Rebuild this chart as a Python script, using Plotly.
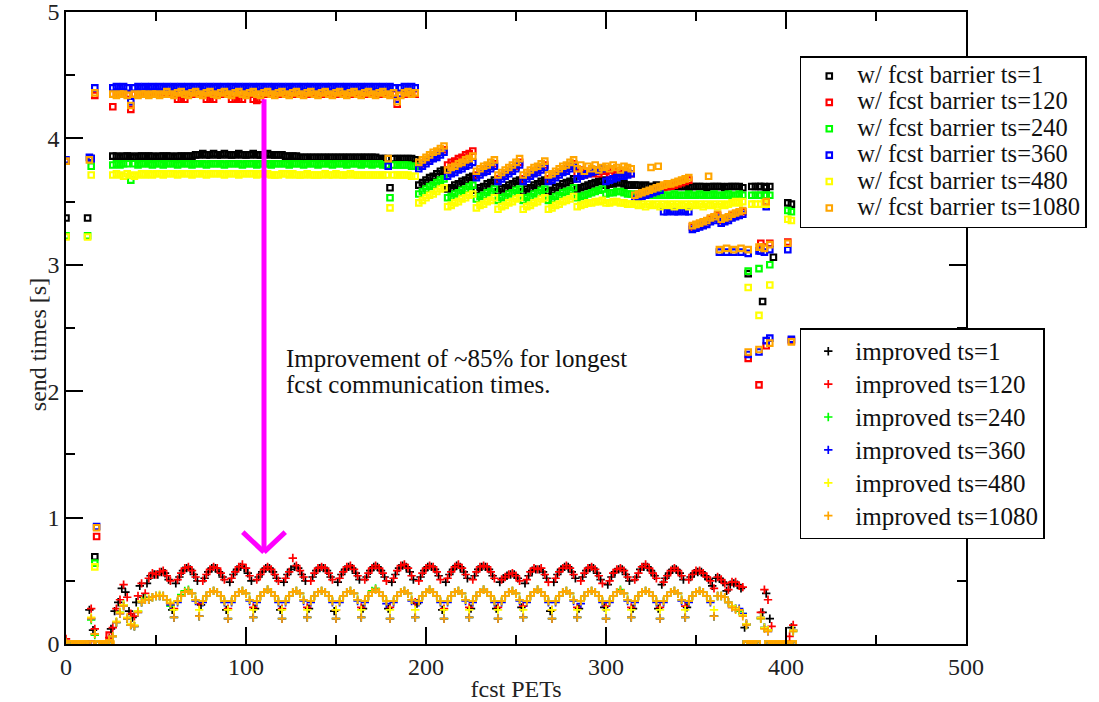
import plotly.graph_objects as go

FONT = "Liberation Serif, Times New Roman, serif"

# ---------------- x positions (fcst PET ids) ----------------
pets_even = list(range(0, 405, 2))   # 203 PETs
pets_odd = list(range(1, 405, 2))    # 202 PETs

series_names = ["ts=1", "ts=120", "ts=240", "ts=360", "ts=480", "ts=1080"]
series_colors = ["#000000", "#ff0000", "#00ff00", "#0000ff", "#ffff00", "#ffa500"]

# ---------------- "w/ fcst barrier" send times [s] (even PETs) ----------------
barrier_ts1 = [
    3.37, 0, 0, 0, 0, 0, 3.37, 3.84, 0.69, 0, 0, 0, 0,
    3.86, 3.86, 3.85, 3.86, 3.86, 3.86, 3.85, 3.86, 3.86, 3.86,
    3.86, 3.86, 3.85, 3.86, 3.86, 3.86, 3.86, 3.85, 3.86, 3.86,
    3.86, 3.86, 3.86, 3.87, 3.87, 3.88, 3.87, 3.87, 3.88, 3.87,
    3.87, 3.88, 3.87, 3.87, 3.87, 3.88, 3.87, 3.87, 3.87, 3.88,
    3.87, 3.87, 3.87, 3.88, 3.87, 3.87, 3.87, 3.87, 3.86, 3.86,
    3.86, 3.86, 3.85, 3.85, 3.85, 3.85, 3.85, 3.85, 3.85, 3.85,
    3.85, 3.85, 3.85, 3.85, 3.85, 3.85, 3.85, 3.85, 3.85, 3.85,
    3.85, 3.85, 3.85, 3.85, 3.84, 3.84, 3.84, 3.61, 3.84, 3.84,
    3.84, 3.84, 3.84, 3.84, 3.83,
    3.63, 3.65, 3.67, 3.69, 3.70, 3.72, 3.74, 3.75,
    3.60, 3.61, 3.63, 3.64, 3.66, 3.67, 3.69, 3.70,
    3.59, 3.61, 3.62, 3.64, 3.65, 3.67,
    3.58, 3.60, 3.61, 3.63, 3.64, 3.66, 3.67,
    3.58, 3.60, 3.61, 3.63, 3.64, 3.66, 3.67,
    3.58, 3.59, 3.61, 3.62, 3.64, 3.65, 3.66, 3.68,
    3.60, 3.61, 3.62, 3.63, 3.64, 3.65, 3.66, 3.67,
    3.63, 3.64, 3.64, 3.65, 3.65, 3.64, 3.63, 3.63,
    3.63, 3.63, 3.62, 3.63, 3.62, 3.62, 3.63, 3.62, 3.62, 3.62, 3.62, 3.63, 3.62, 3.62, 3.62, 3.61,
    3.62, 3.62, 3.62, 3.62, 3.61, 3.62, 3.62, 3.62,
    3.62, 3.61, 3.62, 3.62, 3.62, 3.62, 3.61,
    0, 0, 0, 0, 3.62,
    3.62,
    0, 0, 0, 0, 0, 0, 0, 0,
]
barrier_ts1_extra_x = [381, 383, 385, 389, 391, 379, 387, 393, 401, 403]
barrier_ts1_extra_y = [3.62, 3.62, 3.62, 3.61, 3.62, 2.93, 2.71, 3.06, 3.49, 3.48]

barrier_ts120 = [
    3.82, 0, 0, 0, 0, 0, 0, 0, 4.34, 0, 0, 0, 0.07,
    4.25, 4.35, 4.35, 4.35, 4.35, 4.23, 4.35, 4.35, 4.35, 4.35,
    4.35, 4.35, 4.35, 4.35, 4.35, 4.35, 4.35, 4.35, 4.31, 4.31,
    4.31, 4.35, 4.35, 4.35, 4.35, 4.35, 4.31, 4.31, 4.31, 4.35,
    4.35, 4.35, 4.35, 4.31, 4.31, 4.31, 4.31, 4.35, 4.35, 4.31,
    4.30, 4.31, 4.35, 4.35, 4.35, 4.35, 4.35, 4.35, 4.35, 4.35,
    4.35, 4.35, 4.35, 4.35, 4.35, 4.35, 4.35, 4.35, 4.35, 4.35,
    4.35, 4.35, 4.35, 4.35, 4.35, 4.35, 4.35, 4.35, 4.35, 4.35,
    4.35, 4.35, 4.35, 4.35, 4.35, 4.35, 4.35, 4.35, 4.35, 4.27,
    4.35, 4.35, 4.35, 4.35, 4.35,
    3.78, 3.80, 3.82, 3.84, 3.86, 3.87, 3.89, 3.91,
    3.79, 3.81, 3.82, 3.84, 3.85, 3.87, 3.88, 3.90,
    3.71, 3.73, 3.75, 3.76, 3.78, 3.80,
    3.68, 3.70, 3.72, 3.74, 3.76, 3.78, 3.81,
    3.68, 3.70, 3.72, 3.74, 3.75, 3.77, 3.79,
    3.68, 3.69, 3.71, 3.73, 3.75, 3.76, 3.78, 3.80,
    3.72, 3.75, 3.71, 3.74, 3.72, 3.75, 3.72, 3.74,
    3.74, 3.72, 3.75, 3.73, 3.72, 3.74, 3.73, 3.72,
    3.53, 3.54, 3.55, 3.56, 3.57, 3.58, 3.59, 3.60, 3.61, 3.62, 3.62, 3.63, 3.64, 3.65, 3.66, 3.67,
    3.30, 3.31, 3.32, 3.33, 3.34, 3.36, 3.37, 3.39,
    3.35, 3.36, 3.37, 3.39, 3.40, 3.41, 3.42,
    0, 0, 0, 0, 3.17,
    3.14,
    0, 0, 0, 0, 0, 0, 0, 0,
]
barrier_ts120_extra_x = [17, 379, 385, 389, 403, 391, 401]
barrier_ts120_extra_y = [0.85, 2.26, 2.05, 2.36, 2.40, 3.17, 3.18]

barrier_ts240 = [
    3.23, 0, 0, 0, 0, 0, 3.23, 3.78, 0.64, 0, 0, 0, 0,
    3.79, 3.80, 3.79, 3.80, 3.80, 3.67, 3.80, 3.79, 3.80, 3.80,
    3.80, 3.79, 3.80, 3.80, 3.79, 3.80, 3.80, 3.80, 3.79, 3.80,
    3.80, 3.80, 3.79, 3.80, 3.80, 3.80, 3.79, 3.80, 3.80, 3.80,
    3.80, 3.79, 3.80, 3.80, 3.80, 3.80, 3.79, 3.80, 3.80, 3.80,
    3.79, 3.80, 3.80, 3.80, 3.79, 3.80, 3.80, 3.80, 3.80, 3.79,
    3.80, 3.80, 3.80, 3.79, 3.80, 3.80, 3.80, 3.79, 3.80, 3.80,
    3.80, 3.79, 3.80, 3.80, 3.80, 3.79, 3.80, 3.80, 3.80, 3.79,
    3.80, 3.80, 3.79, 3.80, 3.80, 3.79, 3.79, 3.53, 3.79, 3.79,
    3.79, 3.79, 3.79, 3.78, 3.78,
    3.56, 3.58, 3.60, 3.62, 3.63, 3.65, 3.67, 3.68,
    3.53, 3.54, 3.56, 3.57, 3.59, 3.60, 3.62, 3.63,
    3.52, 3.54, 3.55, 3.57, 3.58, 3.60,
    3.51, 3.53, 3.54, 3.56, 3.57, 3.59, 3.60,
    3.51, 3.53, 3.54, 3.56, 3.57, 3.59, 3.60,
    3.51, 3.52, 3.54, 3.55, 3.57, 3.58, 3.59, 3.61,
    3.53, 3.54, 3.55, 3.56, 3.57, 3.58, 3.59, 3.60,
    3.56, 3.57, 3.57, 3.58, 3.58, 3.57, 3.56, 3.56,
    3.55, 3.56, 3.55, 3.55, 3.56, 3.55, 3.55, 3.56, 3.55, 3.55, 3.55, 3.56, 3.55, 3.55, 3.55, 3.56,
    3.55, 3.55, 3.56, 3.55, 3.55, 3.55, 3.56, 3.55,
    3.55, 3.55, 3.56, 3.55, 3.55, 3.56, 3.55,
    0, 0, 0, 0, 3.55,
    3.55,
    0, 0, 0, 0, 0, 0, 0, 0,
]
barrier_ts240_extra_x = [381, 383, 385, 389, 391, 379, 385, 391, 401, 403]
barrier_ts240_extra_y = [3.55, 3.55, 3.55, 3.55, 3.55, 2.95, 2.97, 3.00, 3.43, 3.42]

barrier_ts360 = [
    3.83, 0, 0, 0, 0, 0, 0, 3.84, 4.40, 0, 0, 0, 0,
    4.40, 4.41, 4.40, 4.41, 4.40, 4.29, 4.40, 4.41, 4.40, 4.41,
    4.40, 4.41, 4.40, 4.41, 4.40, 4.41, 4.40, 4.41, 4.40, 4.41,
    4.40, 4.41, 4.40, 4.41, 4.40, 4.41, 4.40, 4.41, 4.40, 4.41,
    4.40, 4.41, 4.40, 4.41, 4.40, 4.41, 4.40, 4.41, 4.40, 4.41,
    4.40, 4.41, 4.40, 4.41, 4.40, 4.41, 4.40, 4.41, 4.40, 4.41,
    4.40, 4.41, 4.40, 4.41, 4.40, 4.41, 4.40, 4.41, 4.40, 4.41,
    4.40, 4.41, 4.40, 4.41, 4.40, 4.41, 4.40, 4.41, 4.40, 4.41,
    4.40, 4.41, 4.40, 4.41, 4.40, 4.41, 4.40, 4.41, 4.40, 4.31,
    4.40, 4.41, 4.40, 4.41, 4.40,
    3.76, 3.78, 3.80, 3.82, 3.84, 3.85, 3.87, 3.89,
    3.70, 3.72, 3.73, 3.75, 3.76, 3.78, 3.79, 3.81,
    3.69, 3.71, 3.73, 3.74, 3.76, 3.78,
    3.66, 3.68, 3.70, 3.72, 3.74, 3.76, 3.79,
    3.66, 3.68, 3.70, 3.72, 3.73, 3.75, 3.77,
    3.66, 3.67, 3.69, 3.71, 3.73, 3.74, 3.76, 3.78,
    3.68, 3.70, 3.71, 3.72, 3.73, 3.74, 3.75, 3.76,
    3.66, 3.67, 3.68, 3.69, 3.70, 3.70, 3.71, 3.72,
    3.52, 3.53, 3.54, 3.55, 3.56, 3.57, 3.58, 3.59, 3.42, 3.42, 3.43, 3.42, 3.42, 3.43, 3.42, 3.42,
    3.28, 3.29, 3.30, 3.31, 3.32, 3.34, 3.35, 3.37,
    3.33, 3.34, 3.35, 3.37, 3.38, 3.39, 3.40,
    0, 0, 0, 0, 3.11,
    3.10,
    0, 0, 0, 0, 0, 0, 0, 0,
]
barrier_ts360_extra_x = [13, 17, 179, 363, 367, 371, 375, 379, 385, 391, 401, 379, 385, 389, 391, 403, 389]
barrier_ts360_extra_y = [3.85, 0.93, 3.78, 3.10, 3.10, 3.10, 3.10, 3.09, 3.11, 3.12, 3.12, 2.29, 2.31, 2.40, 2.42, 2.41, 3.46]

barrier_ts480 = [
    3.22, 0, 0, 0, 0, 0, 3.22, 3.71, 0.61, 0, 0, 0, 0,
    3.71, 3.72, 3.71, 3.70, 3.72, 3.71, 3.70, 3.71, 3.72, 3.71,
    3.72, 3.71, 3.72, 3.72, 3.71, 3.72, 3.72, 3.72, 3.71, 3.72,
    3.72, 3.72, 3.71, 3.72, 3.72, 3.72, 3.71, 3.72, 3.72, 3.72,
    3.72, 3.71, 3.72, 3.72, 3.72, 3.71, 3.72, 3.72, 3.72, 3.72,
    3.71, 3.72, 3.72, 3.72, 3.71, 3.71, 3.71, 3.72, 3.72, 3.71,
    3.72, 3.71, 3.71, 3.71, 3.72, 3.71, 3.71, 3.71, 3.71, 3.72,
    3.71, 3.71, 3.72, 3.71, 3.71, 3.71, 3.72, 3.71, 3.71, 3.71,
    3.71, 3.71, 3.71, 3.71, 3.71, 3.71, 3.71, 3.45, 3.71, 3.71,
    3.71, 3.71, 3.71, 3.70, 3.70,
    3.49, 3.51, 3.53, 3.55, 3.56, 3.58, 3.60, 3.61,
    3.46, 3.47, 3.49, 3.50, 3.52, 3.53, 3.55, 3.56,
    3.45, 3.47, 3.48, 3.50, 3.51, 3.53,
    3.44, 3.46, 3.47, 3.49, 3.50, 3.52, 3.53,
    3.44, 3.46, 3.47, 3.49, 3.50, 3.52, 3.53,
    3.44, 3.45, 3.47, 3.48, 3.50, 3.51, 3.52, 3.54,
    3.46, 3.47, 3.48, 3.49, 3.49, 3.50, 3.50, 3.51,
    3.49, 3.49, 3.50, 3.50, 3.49, 3.49, 3.48, 3.48,
    3.48, 3.47, 3.48, 3.46, 3.48, 3.47, 3.48, 3.46, 3.48, 3.47, 3.48, 3.46, 3.48, 3.47, 3.48, 3.46,
    3.48, 3.47, 3.48, 3.46, 3.48, 3.47, 3.48, 3.46,
    3.48, 3.47, 3.48, 3.49, 3.50, 3.49, 3.50,
    0, 0, 0, 0, 3.48,
    3.49,
    0, 0, 0, 0, 0, 0, 0, 0,
]
barrier_ts480_extra_x = [381, 383, 389, 379, 385, 391, 401, 403]
barrier_ts480_extra_y = [3.48, 3.48, 3.48, 2.82, 2.60, 2.84, 3.36, 3.35]

barrier_ts1080 = [
    3.82, 0, 0, 0, 0, 0, 0, 0, 4.36, 0, 0, 0, 0,
    4.35, 4.34, 4.35, 4.35, 4.34, 4.26, 4.35, 4.34, 4.35, 4.35,
    4.34, 4.35, 4.35, 4.34, 4.35, 4.37, 4.35, 4.34, 4.36, 4.37,
    4.35, 4.34, 4.36, 4.37, 4.35, 4.34, 4.36, 4.37, 4.35, 4.34,
    4.36, 4.37, 4.35, 4.34, 4.36, 4.37, 4.35, 4.34, 4.36, 4.37,
    4.35, 4.34, 4.36, 4.37, 4.35, 4.34, 4.36, 4.37, 4.35, 4.34,
    4.36, 4.37, 4.35, 4.34, 4.36, 4.37, 4.35, 4.34, 4.36, 4.37,
    4.35, 4.34, 4.36, 4.37, 4.35, 4.34, 4.36, 4.37, 4.35, 4.34,
    4.36, 4.37, 4.35, 4.34, 4.36, 4.37, 4.35, 4.34, 4.36, 4.29,
    4.34, 4.36, 4.37, 4.35, 4.36,
    3.81, 3.83, 3.85, 3.87, 3.89, 3.90, 3.92, 3.94,
    3.75, 3.77, 3.78, 3.80, 3.81, 3.83, 3.84, 3.86,
    3.74, 3.76, 3.78, 3.79, 3.81, 3.83,
    3.71, 3.73, 3.75, 3.77, 3.79, 3.81, 3.84,
    3.71, 3.73, 3.75, 3.77, 3.78, 3.80, 3.82,
    3.71, 3.72, 3.74, 3.76, 3.78, 3.79, 3.81, 3.83,
    3.76, 3.79, 3.74, 3.78, 3.76, 3.79, 3.75, 3.77,
    3.78, 3.76, 3.79, 3.77, 3.75, 3.78, 3.77, 3.76,
    3.55, 3.56, 3.57, 3.58, 3.59, 3.60, 3.61, 3.62, 3.63, 3.64, 3.64, 3.65, 3.66, 3.67, 3.68, 3.69,
    3.31, 3.32, 3.33, 3.34, 3.35, 3.37, 3.38, 3.40,
    3.36, 3.37, 3.38, 3.40, 3.41, 3.42, 3.43,
    0, 0, 0, 0, 3.14,
    3.13,
    0, 0, 0, 0, 0, 0, 0, 0,
]
barrier_ts1080_extra_x = [0, 25, 13, 17, 179, 325, 329, 357, 363, 367, 371, 375, 379, 385, 391, 401, 379, 385, 391, 403, 389]
barrier_ts1080_extra_y = [0, 0, 3.83, 0.92, 3.84, 3.77, 3.78, 3.70, 3.12, 3.13, 3.12, 3.13, 3.12, 3.14, 3.16, 3.17, 2.31, 2.33, 2.38, 2.39, 3.50]

# ---------------- "improved" send times [s] ----------------
N = None
improved_ts1 = [  # odd PETs 1..403
    N, N, N, N, N, N, 0.27, 0.11, N, N,
    N, N, 0.12, 0.26, 0.33, 0.44, 0.41, 0.26, 0.21, 0.33,
    0.46, 0.37, 0.48, 0.54, 0.55, 0.55, 0.57, 0.56, 0.51, 0.27,
    0.48, 0.53, 0.58, 0.60, 0.59, 0.55, 0.50, 0.31, 0.52, 0.57,
    0.60, 0.60, 0.57, 0.53, 0.27, 0.49, 0.55, 0.59, 0.61, 0.60,
    0.56, 0.50, 0.28, 0.53, 0.57, 0.60, 0.60, 0.57, 0.52, 0.27,
    0.49, 0.55, 0.59, 0.61, 0.60, 0.55, 0.50, 0.28, 0.53, 0.58,
    0.60, 0.60, 0.58, 0.53, 0.26, 0.49, 0.55, 0.59, 0.61, 0.60,
    0.56, 0.51, 0.28, 0.53, 0.58, 0.61, 0.61, 0.58, 0.53, 0.28,
    0.49, 0.55, 0.60, 0.62, 0.61, 0.57, 0.51, 0.32, 0.53, 0.58,
    0.61, 0.61, 0.59, 0.54, 0.27, 0.49, 0.55, 0.59, 0.62, 0.61,
    0.57, 0.52, 0.28, 0.54, 0.59, 0.61, 0.61, 0.59, 0.54, 0.28,
    0.49, 0.52, 0.54, 0.55, 0.55, 0.52, 0.29, 0.48, 0.54, 0.58,
    0.59, 0.59, 0.57, 0.52, 0.26, 0.49, 0.55, 0.59, 0.61, 0.61,
    0.57, 0.52, 0.28, 0.53, 0.58, 0.60, 0.60, 0.56, 0.51, 0.29,
    0.47, 0.53, 0.57, 0.59, 0.59, 0.55, 0.50, 0.28, 0.53, 0.59,
    0.61, 0.61, 0.58, 0.54, 0.28, 0.47, 0.52, 0.56, 0.59, 0.59,
    0.56, 0.51, 0.29, 0.53, 0.56, 0.57, 0.57, 0.54, 0.51, 0.46,
    0.52, 0.52, 0.49, 0.42, 0.47, 0.48, 0.47, 0.44, 0.13, N,
    N, N, N, 0.25, 0.40, 0.20, N, N, N, N,
    N, 0.13,
]
improved_ts120 = [  # even PETs 0..404
    0.04, N, N, N, N, N, N, 0.28, 0.12, N,
    N, N, 0.05, 0.13, 0.28, 0.35, 0.47, 0.37, 0.24, 0.22,
    0.38, 0.48, 0.40, 0.52, 0.56, 0.55, 0.57, 0.58, 0.54, 0.50,
    0.28, 0.51, 0.56, 0.60, 0.61, 0.58, 0.53, 0.32, 0.50, 0.55,
    0.59, 0.61, 0.60, 0.56, 0.51, 0.28, 0.52, 0.57, 0.61, 0.63,
    0.60, 0.54, 0.29, 0.51, 0.55, 0.59, 0.61, 0.59, 0.55, 0.50,
    0.28, 0.52, 0.57, 0.68, 0.62, 0.58, 0.53, 0.29, 0.50, 0.56,
    0.60, 0.61, 0.60, 0.56, 0.51, 0.27, 0.52, 0.57, 0.61, 0.62,
    0.59, 0.54, 0.29, 0.51, 0.56, 0.60, 0.62, 0.60, 0.56, 0.50,
    0.29, 0.52, 0.58, 0.62, 0.63, 0.60, 0.54, 0.33, 0.50, 0.56,
    0.60, 0.62, 0.61, 0.57, 0.51, 0.28, 0.52, 0.57, 0.61, 0.63,
    0.60, 0.55, 0.29, 0.51, 0.57, 0.61, 0.62, 0.61, 0.57, 0.52,
    0.29, 0.51, 0.53, 0.55, 0.56, 0.54, 0.50, 0.30, 0.51, 0.57,
    0.60, 0.59, 0.60, 0.55, 0.49, 0.27, 0.52, 0.57, 0.60, 0.62,
    0.60, 0.55, 0.29, 0.50, 0.56, 0.60, 0.61, 0.59, 0.54, 0.48,
    0.30, 0.50, 0.56, 0.59, 0.60, 0.58, 0.53, 0.29, 0.51, 0.56,
    0.61, 0.63, 0.60, 0.56, 0.52, 0.29, 0.49, 0.54, 0.58, 0.60,
    0.58, 0.54, 0.30, 0.51, 0.55, 0.58, 0.58, 0.56, 0.53, 0.50,
    0.44, 0.53, 0.51, 0.48, 0.43, 0.49, 0.49, 0.46, 0.45, 0.16,
    N, N, N, 0.25, 0.43, 0.35, 0.14, N, N, N,
    N, 0.06, 0.15,
]
improved_ts240 = [  # even PETs
    0.01, N, N, N, N, N, N, 0.19, 0.07, N,
    N, N, 0.03, 0.06, 0.17, 0.25, 0.31, 0.20, 0.15, 0.14,
    0.26, 0.33, 0.36, 0.35, 0.37, 0.38, 0.38, 0.38, 0.35, 0.30,
    0.21, 0.34, 0.39, 0.42, 0.43, 0.40, 0.35, 0.22, 0.34, 0.38,
    0.41, 0.42, 0.41, 0.38, 0.34, 0.20, 0.34, 0.38, 0.41, 0.42,
    0.40, 0.35, 0.21, 0.34, 0.38, 0.41, 0.43, 0.41, 0.38, 0.34,
    0.20, 0.34, 0.38, 0.41, 0.42, 0.40, 0.35, 0.21, 0.34, 0.38,
    0.41, 0.42, 0.41, 0.38, 0.34, 0.20, 0.34, 0.38, 0.41, 0.42,
    0.40, 0.35, 0.21, 0.34, 0.38, 0.42, 0.44, 0.41, 0.38, 0.34,
    0.20, 0.34, 0.38, 0.41, 0.42, 0.40, 0.35, 0.21, 0.34, 0.38,
    0.41, 0.43, 0.41, 0.38, 0.34, 0.20, 0.34, 0.38, 0.41, 0.42,
    0.40, 0.35, 0.21, 0.34, 0.38, 0.41, 0.43, 0.41, 0.38, 0.34,
    0.20, 0.34, 0.38, 0.41, 0.42, 0.40, 0.35, 0.21, 0.34, 0.38,
    0.41, 0.43, 0.41, 0.38, 0.34, 0.20, 0.34, 0.38, 0.41, 0.42,
    0.40, 0.35, 0.21, 0.34, 0.38, 0.41, 0.42, 0.41, 0.38, 0.34,
    0.20, 0.34, 0.38, 0.41, 0.43, 0.40, 0.35, 0.21, 0.34, 0.38,
    0.41, 0.42, 0.41, 0.38, 0.34, 0.20, 0.34, 0.38, 0.41, 0.42,
    0.40, 0.35, 0.21, 0.34, 0.38, 0.41, 0.42, 0.41, 0.38, 0.34,
    0.22, 0.38, 0.38, 0.37, 0.33, 0.30, 0.28, 0.26, 0.24, 0.15,
    N, N, N, 0.20, 0.13, 0.11, N, N, N, N,
    N, N, 0.10,
]
improved_ts360 = [  # even PETs
    0.01, N, N, N, N, N, N, 0.20, 0.08, N,
    N, N, 0.03, 0.06, 0.17, 0.24, 0.30, 0.20, 0.15, 0.14,
    0.25, 0.33, 0.35, 0.35, 0.37, 0.38, 0.38, 0.38, 0.35, 0.31,
    0.21, 0.33, 0.38, 0.41, 0.42, 0.40, 0.34, 0.22, 0.33, 0.38,
    0.41, 0.42, 0.41, 0.38, 0.33, 0.20, 0.33, 0.38, 0.41, 0.42,
    0.40, 0.34, 0.21, 0.33, 0.38, 0.41, 0.43, 0.41, 0.38, 0.33,
    0.20, 0.33, 0.38, 0.41, 0.42, 0.40, 0.34, 0.21, 0.33, 0.38,
    0.41, 0.42, 0.41, 0.38, 0.33, 0.20, 0.33, 0.38, 0.41, 0.42,
    0.40, 0.34, 0.21, 0.33, 0.38, 0.41, 0.43, 0.41, 0.38, 0.32,
    0.20, 0.33, 0.38, 0.41, 0.42, 0.40, 0.34, 0.21, 0.33, 0.38,
    0.41, 0.43, 0.41, 0.38, 0.33, 0.20, 0.33, 0.38, 0.41, 0.42,
    0.40, 0.34, 0.21, 0.33, 0.38, 0.41, 0.43, 0.41, 0.38, 0.33,
    0.20, 0.33, 0.38, 0.41, 0.42, 0.40, 0.34, 0.21, 0.33, 0.38,
    0.41, 0.43, 0.41, 0.38, 0.33, 0.20, 0.33, 0.38, 0.41, 0.42,
    0.40, 0.34, 0.21, 0.32, 0.38, 0.41, 0.42, 0.41, 0.38, 0.33,
    0.20, 0.33, 0.38, 0.41, 0.42, 0.40, 0.34, 0.21, 0.33, 0.38,
    0.41, 0.42, 0.41, 0.38, 0.33, 0.20, 0.33, 0.38, 0.41, 0.42,
    0.40, 0.34, 0.21, 0.33, 0.38, 0.41, 0.42, 0.41, 0.38, 0.33,
    0.22, 0.38, 0.38, 0.37, 0.33, 0.29, 0.28, 0.28, 0.24, 0.16,
    N, N, N, 0.21, 0.13, 0.10, N, N, N, N,
    N, N, 0.11,
]
improved_ts480 = [  # even PETs
    0.01, N, N, N, N, N, N, 0.21, 0.08, N,
    N, N, 0.03, 0.06, 0.18, 0.25, 0.31, 0.21, 0.16, 0.15,
    0.26, 0.34, 0.35, 0.36, 0.37, 0.38, 0.39, 0.38, 0.35, 0.33,
    0.27, 0.34, 0.38, 0.41, 0.42, 0.40, 0.35, 0.27, 0.34, 0.38,
    0.41, 0.42, 0.41, 0.38, 0.34, 0.27, 0.34, 0.38, 0.41, 0.42,
    0.40, 0.35, 0.27, 0.34, 0.38, 0.41, 0.43, 0.41, 0.38, 0.34,
    0.27, 0.34, 0.38, 0.41, 0.42, 0.40, 0.35, 0.27, 0.34, 0.38,
    0.41, 0.42, 0.41, 0.38, 0.34, 0.27, 0.34, 0.38, 0.41, 0.42,
    0.40, 0.35, 0.27, 0.34, 0.38, 0.41, 0.43, 0.41, 0.38, 0.34,
    0.27, 0.34, 0.38, 0.41, 0.42, 0.40, 0.35, 0.27, 0.34, 0.38,
    0.41, 0.43, 0.41, 0.38, 0.34, 0.27, 0.34, 0.38, 0.41, 0.42,
    0.40, 0.35, 0.27, 0.34, 0.38, 0.41, 0.43, 0.41, 0.38, 0.34,
    0.27, 0.34, 0.38, 0.41, 0.42, 0.40, 0.35, 0.27, 0.34, 0.38,
    0.41, 0.43, 0.41, 0.38, 0.34, 0.27, 0.34, 0.38, 0.41, 0.42,
    0.40, 0.35, 0.27, 0.34, 0.38, 0.41, 0.42, 0.41, 0.38, 0.34,
    0.27, 0.34, 0.38, 0.41, 0.42, 0.40, 0.35, 0.27, 0.34, 0.38,
    0.41, 0.42, 0.41, 0.38, 0.34, 0.27, 0.34, 0.38, 0.41, 0.42,
    0.40, 0.35, 0.27, 0.34, 0.38, 0.41, 0.42, 0.41, 0.38, 0.34,
    0.27, 0.38, 0.38, 0.37, 0.33, 0.30, 0.28, 0.27, 0.23, 0.16,
    N, N, N, 0.21, 0.13, 0.11, N, N, N, N,
    N, N, 0.11,
]
improved_ts1080 = [  # even PETs
    0.01, N, N, N, N, N, N, 0.20, 0.08, N,
    N, N, 0.03, 0.06, 0.17, 0.24, 0.30, 0.20, 0.15, 0.14,
    0.25, 0.33, 0.35, 0.35, 0.37, 0.38, 0.38, 0.38, 0.35, 0.32,
    0.21, 0.34, 0.38, 0.41, 0.42, 0.40, 0.35, 0.22, 0.34, 0.38,
    0.41, 0.42, 0.41, 0.38, 0.34, 0.20, 0.34, 0.38, 0.41, 0.42,
    0.40, 0.35, 0.21, 0.34, 0.38, 0.41, 0.43, 0.41, 0.38, 0.34,
    0.20, 0.34, 0.38, 0.41, 0.42, 0.40, 0.35, 0.21, 0.34, 0.38,
    0.41, 0.42, 0.41, 0.38, 0.34, 0.20, 0.34, 0.38, 0.41, 0.42,
    0.40, 0.35, 0.21, 0.34, 0.38, 0.41, 0.43, 0.41, 0.38, 0.34,
    0.20, 0.34, 0.38, 0.41, 0.42, 0.40, 0.35, 0.21, 0.34, 0.38,
    0.41, 0.43, 0.41, 0.38, 0.34, 0.20, 0.34, 0.38, 0.41, 0.42,
    0.40, 0.35, 0.21, 0.34, 0.38, 0.41, 0.43, 0.41, 0.38, 0.34,
    0.20, 0.34, 0.38, 0.41, 0.42, 0.40, 0.35, 0.21, 0.34, 0.38,
    0.41, 0.43, 0.41, 0.38, 0.34, 0.20, 0.34, 0.38, 0.41, 0.42,
    0.40, 0.35, 0.21, 0.34, 0.38, 0.41, 0.42, 0.41, 0.38, 0.34,
    0.20, 0.34, 0.38, 0.41, 0.42, 0.40, 0.35, 0.21, 0.34, 0.38,
    0.41, 0.42, 0.41, 0.38, 0.34, 0.20, 0.34, 0.38, 0.41, 0.42,
    0.40, 0.35, 0.21, 0.34, 0.38, 0.41, 0.42, 0.41, 0.38, 0.34,
    0.22, 0.38, 0.38, 0.37, 0.33, 0.29, 0.27, 0.27, 0.22, 0.15,
    N, N, N, 0.20, 0.12, 0.10, N, N, N, N,
    N, N, 0.10,
]

barrier_values = [barrier_ts1, barrier_ts120, barrier_ts240, barrier_ts360, barrier_ts480, barrier_ts1080]
barrier_extra_x = [barrier_ts1_extra_x, barrier_ts120_extra_x, barrier_ts240_extra_x,
                   barrier_ts360_extra_x, barrier_ts480_extra_x, barrier_ts1080_extra_x]
barrier_extra_y = [barrier_ts1_extra_y, barrier_ts120_extra_y, barrier_ts240_extra_y,
                   barrier_ts360_extra_y, barrier_ts480_extra_y, barrier_ts1080_extra_y]
improved_values = [improved_ts1, improved_ts120, improved_ts240, improved_ts360, improved_ts480, improved_ts1080]
improved_x = [pets_odd, pets_even, pets_even, pets_even, pets_even, pets_even]

for v in barrier_values:
    assert len(v) == len(pets_even), len(v)
for v, xs in zip(improved_values, improved_x):
    assert len(v) == len(xs), (len(v), len(xs))
for a, b in zip(barrier_extra_x, barrier_extra_y):
    assert len(a) == len(b)

# annotation (arrow + text) placement in data units
arrow_x, arrow_top, arrow_tip = 110, 4.31, 0.727
arrow_arm_dx, arrow_arm_y = 11.8, 0.885
note_x, note_y1, note_y2 = 121.3, 2.261, 2.055

LEG1_TXT = '<span style="font-size:24.5px">{}</span>'
LEG2_TXT = '<span style="font-size:25px">{}</span>'

fig = go.Figure()
for name, color, vals, ex, ey in zip(series_names, series_colors, barrier_values, barrier_extra_x, barrier_extra_y):
    fig.add_trace(go.Scatter(
        x=pets_even + ex, y=vals + ey, mode="markers", name=LEG1_TXT.format("w/ fcst barrier " + name),
        legend="legend",
        marker=dict(symbol="square-open", size=5.5, color=color, line=dict(width=2.1, color=color)),
    ))
for name, color, vals, xs in zip(series_names, series_colors, improved_values, improved_x):
    fig.add_trace(go.Scatter(
        x=xs, y=vals, mode="markers", name=LEG2_TXT.format("improved " + name),
        legend="legend2",
        marker=dict(symbol="cross-thin-open", size=6, color=color, line=dict(width=1.7, color=color)),
    ))

mag = "#ff00ff"
fig.add_shape(type="line", xref="x", yref="y", x0=arrow_x, x1=arrow_x, y0=arrow_top, y1=arrow_tip,
              line=dict(color=mag, width=5), layer="above")
fig.add_shape(type="line", xref="x", yref="y", x0=arrow_x - arrow_arm_dx, x1=arrow_x, y0=arrow_arm_y, y1=arrow_tip,
              line=dict(color=mag, width=5), layer="above")
fig.add_shape(type="line", xref="x", yref="y", x0=arrow_x + arrow_arm_dx, x1=arrow_x, y0=arrow_arm_y, y1=arrow_tip,
              line=dict(color=mag, width=5), layer="above")

fig.add_annotation(x=note_x, y=note_y1, xref="x", yref="y", text="Improvement of ~85% for longest",
                   showarrow=False, xanchor="left", yanchor="middle", font=dict(family=FONT, size=25, color="#111"))
fig.add_annotation(x=note_x, y=note_y2, xref="x", yref="y", text="fcst communication times.",
                   showarrow=False, xanchor="left", yanchor="middle", font=dict(family=FONT, size=25, color="#111"))
# y-axis title
fig.add_annotation(x=-0.031, y=0.473, xref="paper", yref="paper", text="send times [s]", textangle=-90,
                   showarrow=False, xanchor="center", yanchor="middle", font=dict(family=FONT, size=24, color="#222"))

axis_common = dict(
    showgrid=False, zeroline=False, showline=True, linecolor="black", linewidth=1.5,
    mirror="allticks", ticks="inside", ticklen=17, tickwidth=1.5, tickcolor="black",
    tickfont=dict(family=FONT, size=24, color="#222"), automargin=False,
    ticklabeloverflow="allow",
)
fig.update_xaxes(range=[0, 500], dtick=100, tick0=0,
                 minor=dict(ticks="inside", ticklen=9, tickwidth=1.5, tickcolor="black", dtick=50, showgrid=False),
                 title=dict(text="fcst PETs", font=dict(family=FONT, size=24, color="#222"), standoff=4),
                 **axis_common)
fig.update_yaxes(range=[0, 5], dtick=1, tick0=0,
                 minor=dict(ticks="inside", ticklen=9, tickwidth=1.5, tickcolor="black", dtick=0.5, showgrid=False),
                 **axis_common)

fig.update_layout(
    width=1099, height=702,
    margin=dict(l=66, r=129, t=12, b=58),
    plot_bgcolor="white", paper_bgcolor="white",
    showlegend=True,
    legend=dict(x=0.8153, y=0.930, xanchor="left", yanchor="top", bgcolor="white",
                bordercolor="black", borderwidth=1.5, font=dict(family=FONT, size=18, color="#111"),
                itemwidth=46),
    legend2=dict(x=0.8153, y=0.4996, xanchor="left", yanchor="top", bgcolor="white",
                 bordercolor="black", borderwidth=1.5, font=dict(family=FONT, size=23, color="#111"),
                 itemwidth=44),
)

fig.write_html("out.html", config={"displayModeBar": False},
               post_script="document.body.style.margin='0';")
